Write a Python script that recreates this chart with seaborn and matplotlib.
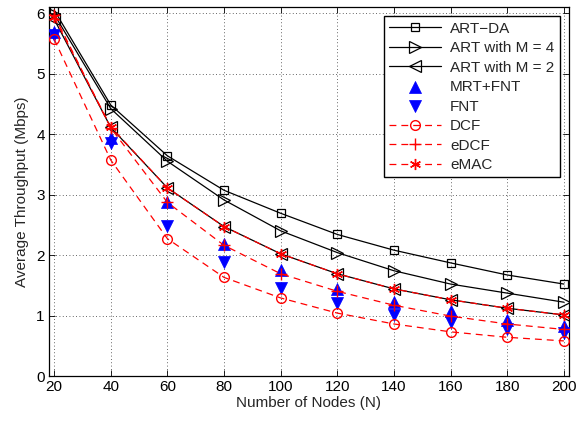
import numpy as np
import pandas as pd
import matplotlib
matplotlib.use("Agg")
import matplotlib.pyplot as plt
import seaborn as sns

nodes = [20, 40, 60, 80, 100, 120, 140, 160, 180, 200]
art_da = [6.05, 4.48, 3.64, 3.07, 2.69, 2.34, 2.08, 1.87, 1.67, 1.52]
art_m4 = [5.98, 4.42, 3.55, 2.91, 2.40, 2.04, 1.74, 1.52, 1.37, 1.22]
art_m2 = [5.90, 4.11, 3.11, 2.47, 2.02, 1.69, 1.44, 1.26, 1.12, 1.01]
mrt_fnt = [5.68, 3.93, 2.88, 2.19, 1.76, 1.43, 1.23, 1.07, 0.93, 0.82]
fnt = [5.63, 3.85, 2.48, 1.88, 1.46, 1.21, 1.01, 0.89, 0.78, 0.71]
dcf = [5.57, 3.57, 2.27, 1.63, 1.29, 1.04, 0.86, 0.73, 0.64, 0.58]
edcf = [5.97, 4.10, 2.87, 2.16, 1.69, 1.40, 1.17, 0.99, 0.86, 0.77]
emac = [5.93, 4.12, 3.11, 2.47, 2.02, 1.69, 1.44, 1.26, 1.12, 1.01]

xticks = [20, 40, 60, 80, 100, 120, 140, 160, 180, 200]
yticks = [0, 1, 2, 3, 4, 5, 6]

sns.set_style("white")
plt.rcParams['font.family'] = ['Liberation Sans', 'DejaVu Sans']
plt.rcParams['axes.unicode_minus'] = True

FS = 11

fig = plt.figure(figsize=(5.78, 4.24), dpi=100)
ax = fig.add_axes([0.0848, 0.1132, 0.8996, 0.8703])

dash = (5.5, 4)
lines_spec = [
    ("ART\u2212DA", art_da, "s", 6),
    ("ART with M = 4", art_m4, ">", 8),
    ("ART with M = 2", art_m2, "<", 8),
]
for label, vals, mk, ms in lines_spec:
    df = pd.DataFrame({"x": nodes, "y": vals})
    sns.lineplot(data=df, x="x", y="y", ax=ax, color="black", marker=mk,
                 markersize=ms, markerfacecolor="none", markeredgecolor="black",
                 markeredgewidth=0.9, linewidth=0.9, label=label)

for label, vals, mk in [("MRT+FNT", mrt_fnt, "^"), ("FNT", fnt, "v")]:
    df = pd.DataFrame({"x": nodes, "y": vals})
    sns.scatterplot(data=df, x="x", y="y", ax=ax, color="blue", marker=mk, s=75,
                    edgecolor="blue", linewidth=0.5, label=label, zorder=3)

red_spec = [("DCF", dcf, "o", 7, "none"), ("eDCF", edcf, "+", 9, "red"), ("eMAC", emac, (6, 2, 0), 8, "red")]
for label, vals, mk, ms, fc in red_spec:
    df = pd.DataFrame({"x": nodes, "y": vals})
    sns.lineplot(data=df, x="x", y="y", ax=ax, color="red", marker=mk, markersize=ms,
                 markerfacecolor=fc, markeredgecolor="red", markeredgewidth=1.0,
                 linewidth=0.9, dashes=False, label=label)
    ax.lines[-1].set_dashes(dash)
    ax.lines[-1].set_zorder(4)

ax.set_xlim(18.2, 201.8)
ax.set_ylim(0, 6.1)
ax.set_xticks(xticks)
ax.set_yticks(yticks)
ax.set_xlabel("Number of Nodes (N)", fontsize=FS, labelpad=1)
ax.set_ylabel("Average Throughput (Mbps)", fontsize=FS, labelpad=5)
ax.tick_params(direction="in", length=4, width=0.6, labelsize=FS, top=True, right=True,
               bottom=True, left=True, colors="black", pad=3)
ax.grid(True, linestyle=(0, (1, 3)), color="black", linewidth=0.6, alpha=0.8)
for s in ax.spines.values():
    s.set_color("black")
    s.set_linewidth(0.9)

h, l = ax.get_legend_handles_labels()
for hh in h:
    if hasattr(hh, "get_color") and hh.get_color() == "red":
        hh.set_dashes(dash)
leg = ax.legend(h, l, loc="upper right", fontsize=FS, handlelength=3.4, frameon=True,
                fancybox=False, edgecolor="black", framealpha=1, borderpad=0.35,
                labelspacing=0.36, handletextpad=0.6, borderaxespad=0.6)
leg.get_frame().set_linewidth(1.0)

fig.savefig("out.png", dpi=100)
